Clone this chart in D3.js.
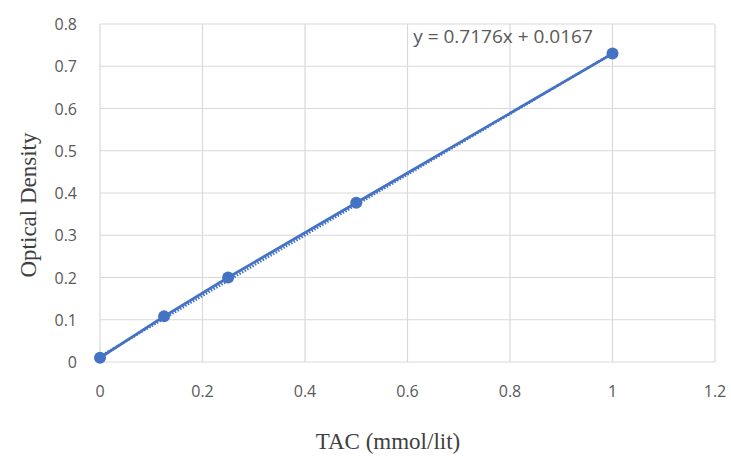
<!DOCTYPE html>
<html><head><meta charset="utf-8">
<script src="https://cdn.jsdelivr.net/npm/d3@7/dist/d3.min.js"></script>
<style>body{margin:0;background:#fff}</style>
</head><body>
<svg id="c" width="731" height="457"></svg>
<script>
const xValues = [0, 0.125, 0.25, 0.5, 1];
const yValues = [0.01, 0.108, 0.2, 0.377, 0.73];
const xTicks = [0, 0.2, 0.4, 0.6, 0.8, 1, 1.2];
const yTicks = [0, 0.1, 0.2, 0.3, 0.4, 0.5, 0.6, 0.7, 0.8];
const slope = 0.7176, intercept = 0.0167;
const equation = "y = 0.7176x + 0.0167";

const svg = d3.select("#c");
const L = 100, R = 715, T = 24, B = 362;
const x = d3.scaleLinear().domain([0, 1.2]).range([L, R]);
const y = d3.scaleLinear().domain([0, 0.8]).range([B, T]);
const col = "#4472C4";

const g = svg.append("g");
g.selectAll(".gx").data(xTicks).join("line")
  .attr("x1", d => x(d)).attr("x2", d => x(d)).attr("y1", T).attr("y2", B)
  .attr("stroke", "#d9d9d9").attr("stroke-width", 1.2);
g.selectAll(".gy").data(yTicks).join("line")
  .attr("x1", L).attr("x2", R).attr("y1", d => y(d)).attr("y2", d => y(d))
  .attr("stroke", "#d9d9d9").attr("stroke-width", 1.2);

const tickFont = "'Open Sans', 'Liberation Sans', sans-serif";
g.selectAll(".tx").data(xTicks).join("text")
  .attr("x", d => x(d)).attr("y", B + 35).attr("text-anchor", "middle")
  .attr("font-family", tickFont).attr("font-size", 16).attr("fill", "#595959")
  .text(d => d3.format("")(d));
g.selectAll(".ty").data(yTicks).join("text")
  .attr("x", L - 23).attr("y", d => y(d) + 6).attr("text-anchor", "end")
  .attr("font-family", tickFont).attr("font-size", 16).attr("fill", "#595959")
  .text(d => d3.format("")(d));

// data line
const pts = xValues.map((v, i) => [v, yValues[i]]);
g.append("path").datum(pts)
  .attr("d", d3.line().x(d => x(d[0])).y(d => y(d[1])))
  .attr("fill", "none").attr("stroke", col).attr("stroke-width", 2.75);
// trendline dotted
g.append("path").datum([[0, intercept], [1, slope + intercept]])
  .attr("d", d3.line().x(d => x(d[0])).y(d => y(d[1])))
  .attr("fill", "none").attr("stroke", col).attr("stroke-width", 2.5)
  .attr("stroke-dasharray", "1.5,1.5").attr("transform", "translate(0,1.5)");
g.selectAll(".pt").data(pts).join("circle")
  .attr("cx", d => x(d[0])).attr("cy", d => y(d[1])).attr("r", 6).attr("fill", col);

g.append("text").attr("x", 503).attr("y", 43).attr("text-anchor", "middle")
  .attr("font-family", tickFont).attr("font-size", 19).attr("fill", "#595959")
  .text(equation);

g.append("text").attr("x", 388).attr("y", 449).attr("text-anchor", "middle")
  .attr("font-family", "'Liberation Serif', serif").attr("font-size", 23).attr("fill", "#404040")
  .text("TAC (mmol/lit)");
g.append("text").attr("transform", "translate(36,205) rotate(-90)").attr("text-anchor", "middle")
  .attr("font-family", "'Liberation Serif', serif").attr("font-size", 23).attr("fill", "#404040")
  .text("Optical Density");
</script>
</body></html>
